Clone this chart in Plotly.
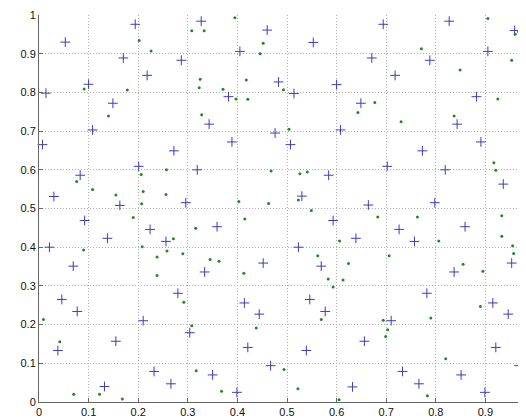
import plotly.graph_objects as go

# Blue "+" points
plus_x = [0.194, 0.053, 0.170, 0.218, 0.100, 0.014, 0.149, 0.108, 0.007,
          0.327, 0.460, 0.405, 0.287, 0.483, 0.382, 0.343, 0.476, 0.389,
          0.694, 0.553, 0.671, 0.718, 0.600, 0.514, 0.649, 0.608, 0.507,
          0.827, 0.959, 0.905, 0.788, 0.984, 0.882, 0.843, 0.976, 0.891,
          0.201, 0.083, 0.030, 0.163, 0.092, 0.224, 0.138, 0.021, 0.069,
          0.272, 0.319, 0.296, 0.359, 0.256, 0.452, 0.334,
          0.702, 0.584, 0.530, 0.664, 0.593, 0.726, 0.639, 0.523, 0.569,
          0.773, 0.819, 0.936, 0.798, 0.859, 0.757, 0.953, 0.837,
          0.046, 0.077, 0.210, 0.155, 0.038, 0.232, 0.132,
          0.280, 0.414, 0.444, 0.304, 0.421, 0.467, 0.350, 0.266, 0.399,
          0.546, 0.577, 0.710, 0.656, 0.539, 0.733, 0.632,
          0.782, 0.915, 0.946, 0.921, 0.968, 0.851, 0.766, 0.899]
plus_y = [0.976, 0.930, 0.889, 0.844, 0.821, 0.798, 0.772, 0.703, 0.665,
          0.984, 0.961, 0.906, 0.883, 0.827, 0.789, 0.718, 0.695, 0.672,
          0.976, 0.929, 0.889, 0.844, 0.820, 0.797, 0.772, 0.703, 0.665,
          0.984, 0.960, 0.906, 0.883, 0.827, 0.789, 0.718, 0.696, 0.672,
          0.609, 0.586, 0.531, 0.508, 0.469, 0.446, 0.423, 0.400, 0.351,
          0.649, 0.600, 0.515, 0.453, 0.415, 0.359, 0.336,
          0.609, 0.586, 0.532, 0.509, 0.469, 0.446, 0.423, 0.400, 0.351,
          0.649, 0.600, 0.563, 0.515, 0.453, 0.415, 0.359, 0.336,
          0.265, 0.234, 0.210, 0.157, 0.133, 0.079, 0.040,
          0.281, 0.256, 0.227, 0.179, 0.141, 0.094, 0.070, 0.047, 0.025,
          0.265, 0.234, 0.210, 0.157, 0.133, 0.079, 0.039,
          0.281, 0.256, 0.227, 0.141, 0.094, 0.070, 0.047, 0.025]

# Green dot points
dot_x = [0.202, 0.226, 0.091, 0.178, 0.140,
         0.395, 0.308, 0.333, 0.452, 0.446, 0.325, 0.418, 0.323, 0.371, 0.493, 0.397, 0.421, 0.328, 0.504,
         0.677, 0.643, 0.730,
         0.905, 0.967, 0.960, 0.771, 0.953, 0.849, 0.925, 0.837,
         0.206, 0.076, 0.108, 0.210, 0.256, 0.155, 0.207, 0.190, 0.090, 0.208, 0.238, 0.238,
         0.257, 0.468, 0.403, 0.463, 0.415, 0.316, 0.271, 0.258, 0.290, 0.345, 0.363, 0.413,
         0.526, 0.541, 0.523, 0.549, 0.683, 0.606, 0.706, 0.562, 0.624,
         0.917, 0.921, 0.763, 0.933, 0.933, 0.806, 0.955, 0.986, 0.957, 0.994, 0.855, 0.895,
         0.009, 0.042, 0.070, 0.122, 0.168,
         0.292, 0.308, 0.438, 0.494, 0.317, 0.368,
         0.583, 0.613, 0.593, 0.569, 0.694, 0.703, 0.699, 0.522, 0.605,
         0.890, 0.790, 0.820, 0.783]
dot_y = [0.934, 0.907, 0.809, 0.806, 0.739,
         0.993, 0.959, 0.959, 0.927, 0.900, 0.834, 0.832, 0.812, 0.808, 0.807, 0.783, 0.782, 0.742, 0.705,
         0.774, 0.748, 0.724,
         0.991, 0.957, 0.950, 0.913, 0.883, 0.858, 0.783, 0.739,
         0.588, 0.570, 0.549, 0.544, 0.536, 0.535, 0.512, 0.477, 0.393, 0.401, 0.375, 0.327,
         0.600, 0.597, 0.518, 0.513, 0.473, 0.449, 0.422, 0.390, 0.383, 0.368, 0.364, 0.333,
         0.590, 0.594, 0.522, 0.495, 0.478, 0.416, 0.378, 0.378, 0.358,
         0.618, 0.599, 0.478, 0.481, 0.428, 0.416, 0.404, 0.401, 0.384, 0.370, 0.356, 0.338,
         0.213, 0.156, 0.020, 0.020, 0.008,
         0.258, 0.197, 0.191, 0.084, 0.081, 0.028,
         0.318, 0.315, 0.297, 0.213, 0.211, 0.187, 0.169, 0.034, 0.006,
         0.247, 0.217, 0.112, 0.016]

tick_vals = [0, 0.1, 0.2, 0.3, 0.4, 0.5, 0.6, 0.7, 0.8, 0.9, 1]
tick_text = ["0", "0.1", "0.2", "0.3", "0.4", "0.5", "0.6", "0.7", "0.8", "0.9", "1"]

fig = go.Figure()
fig.add_trace(go.Scatter(
    x=plus_x, y=plus_y, mode="markers",
    marker=dict(symbol="cross-thin-open", size=7, color="#3c3cc0",
                line=dict(width=1, color="#3c3cc0")),
    showlegend=False, cliponaxis=False))
fig.add_trace(go.Scatter(
    x=dot_x, y=dot_y, mode="markers",
    marker=dict(symbol="circle", size=3, color="#1f8a1f"),
    showlegend=False, cliponaxis=False))

axis_common = dict(
    showgrid=True, gridcolor="#b0b0b0", griddash="1px,2px", gridwidth=1,
    zeroline=False, showline=True, linecolor="#666666", linewidth=1,
    ticks="inside", ticklen=4, tickcolor="#666666",
    tickfont=dict(family="Liberation Sans, Arial, sans-serif", size=11, color="#111111"),
    tickvals=tick_vals, ticktext=tick_text,
)

fig.update_layout(
    width=526, height=419,
    margin=dict(l=31, r=0, t=7, b=25),
    paper_bgcolor="white", plot_bgcolor="white",
    xaxis=dict(range=[0, 0.998], **axis_common),
    yaxis=dict(range=[0, 1], **axis_common),
)

fig.write_html("out.html")
